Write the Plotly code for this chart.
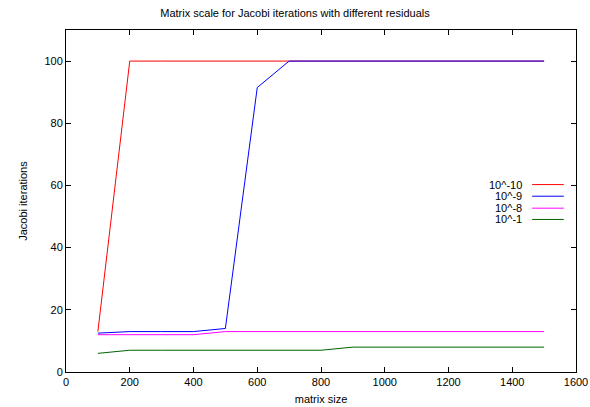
import plotly.graph_objects as go

sizes = [100, 200, 300, 400, 500, 600, 700, 800, 900, 1000, 1100, 1200, 1300, 1400, 1500]
res_1e10 = [13, 100, 100, 100, 100, 100, 100, 100, 100, 100, 100, 100, 100, 100, 100]
res_1e9 = [12.5, 13, 13, 13, 14, 91.5, 100, 100, 100, 100, 100, 100, 100, 100, 100]
res_1e8 = [12, 12, 12, 12, 13, 13, 13, 13, 13, 13, 13, 13, 13, 13, 13]
res_1e1 = [6, 7, 7, 7, 7, 7, 7, 7, 8, 8, 8, 8, 8, 8, 8]

series_names = ["10^-10", "10^-9", "10^-8", "10^-1"]
series_values = [res_1e10, res_1e9, res_1e8, res_1e1]
series_colors = ["#ff0000", "#0000ff", "#ff00ff", "#006400"]

x_ticks = [0, 200, 400, 600, 800, 1000, 1200, 1400, 1600]
y_ticks = [0, 20, 40, 60, 80, 100]

FONT = "Liberation Sans, Arial, Helvetica, sans-serif"

fig = go.Figure()
for name, vals, col in zip(series_names, series_values, series_colors):
    fig.add_trace(go.Scatter(x=sizes, y=vals, mode="lines", name=name,
                             line=dict(color=col, width=1), showlegend=False))

# gnuplot-style key: right-aligned text followed by line sample
key_y = [0.548, 0.514, 0.479, 0.446]
for name, col, ky in zip(series_names, series_colors, key_y):
    fig.add_annotation(x=0.898, y=ky, xref="paper", yref="paper", text=name,
                       showarrow=False, xanchor="right", yanchor="middle",
                       font=dict(family=FONT, size=11, color="black"))
    fig.add_shape(type="line", xref="paper", yref="paper", x0=0.914, x1=0.976,
                  y0=ky, y1=ky, line=dict(color=col, width=1))

axis_common = dict(showline=True, linecolor="black", linewidth=1, mirror="allticks",
                   ticks="inside", ticklen=5, tickcolor="black", showgrid=False,
                   zeroline=False, automargin=False,
                   tickfont=dict(family=FONT, size=11, color="black"))

fig.update_layout(
    width=590, height=407,
    margin=dict(l=66, r=14, t=30, b=35),
    paper_bgcolor="white", plot_bgcolor="white",
    title=dict(text="Matrix scale for Jacobi iterations with different residuals",
               x=0.5, xanchor="center", y=0.968, yanchor="middle",
               font=dict(family=FONT, size=11, color="black")),
    xaxis=dict(range=[0, 1600], tickvals=x_ticks,
               title=dict(text="matrix size", standoff=8,
                          font=dict(family=FONT, size=11, color="black")),
               **axis_common),
    yaxis=dict(range=[0, 110], tickvals=y_ticks,
               title=dict(text="Jacobi iterations", standoff=14,
                          font=dict(family=FONT, size=11, color="black")),
               **axis_common),
)

fig.write_html("out.html")
